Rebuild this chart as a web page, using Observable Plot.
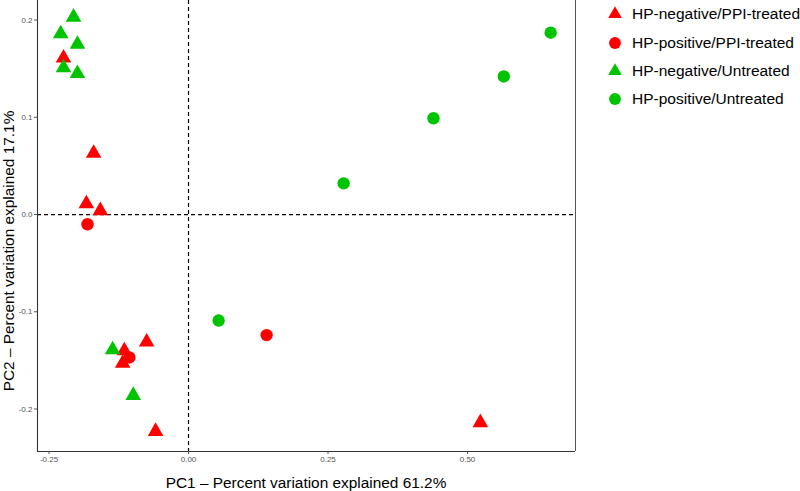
<!DOCTYPE html>
<html>
<head>
<meta charset="utf-8">
<script src="https://cdn.jsdelivr.net/npm/d3@7"></script>
<script src="https://cdn.jsdelivr.net/npm/@observablehq/plot@0.6"></script>
<style>
  html, body { margin: 0; padding: 0; background: #fff; }
  #chart { position: relative; width: 800px; height: 491px; }
</style>
</head>
<body>
<div id="chart"></div>
<script>
// ---- data ----
const groups = ["HP-negative/PPI-treated", "HP-positive/PPI-treated", "HP-negative/Untreated", "HP-positive/Untreated"];
const groupColors = ["#ff0000", "#ff0000", "#00c400", "#00c400"];
const groupSymbols = ["triangle", "circle", "triangle", "circle"];

const negPPI_x = [-0.224, -0.170, -0.183, -0.158, -0.075, -0.115, -0.118, -0.059, 0.523];
const negPPI_y = [0.161, 0.063, 0.011, 0.004, -0.131, -0.140, -0.153, -0.223, -0.214];
const posPPI_x = [-0.181, -0.106, 0.140];
const posPPI_y = [-0.010, -0.147, -0.124];
const negUnt_x = [-0.206, -0.229, -0.199, -0.224, -0.199, -0.136, -0.099];
const negUnt_y = [0.203, 0.186, 0.175, 0.151, 0.145, -0.139, -0.186];
const posUnt_x = [0.054, 0.278, 0.439, 0.565, 0.649];
const posUnt_y = [-0.109, 0.032, 0.099, 0.142, 0.187];

const xTicks = [-0.25, 0, 0.25, 0.5];
const yTicks = [-0.2, -0.1, 0, 0.1, 0.2];
const xDomain = [-0.2706, 0.6935];
const yDomain = [-0.2437, 0.2201];
const xTitle = "PC1 \u2013 Percent variation explained 61.2%";
const yTitle = "PC2 \u2013 Percent variation explained 17.1%";

// ---- build ----
const seriesX = [negPPI_x, posPPI_x, negUnt_x, posUnt_x];
const seriesY = [negPPI_y, posPPI_y, negUnt_y, posUnt_y];
const points = [];
groups.forEach((g, gi) => {
  seriesX[gi].forEach((x, i) => points.push({group: g, gi, x, y: seriesY[gi][i]}));
});

const fmt2 = d => d3.format(".2f")(d).replace("\u2212", "-");
const fmt1 = d => d3.format(".1f")(d).replace("\u2212", "-");
const font = "'Liberation Sans', Arial, sans-serif";

const dotMarks = groups.map((g, gi) =>
  Plot.dot(points.filter(p => p.gi === gi), {
    x: "x", y: "y",
    symbol: () => groupSymbols[gi],
    fill: groupColors[gi],
    r: groupSymbols[gi] === "triangle" ? 5.8 : 6.2,
    stroke: "none"
  })
);

const chart = Plot.plot({
  width: 800,
  height: 491,
  marginLeft: 37,
  marginRight: 225,
  marginTop: 0,
  marginBottom: 40,
  style: {fontFamily: font, background: "#fff"},
  x: {domain: xDomain, axis: null},
  y: {domain: yDomain, axis: null},
  symbol: {type: "identity"},
  marks: [
    Plot.ruleX([0], {stroke: "#000", strokeWidth: 1.2, strokeDasharray: "4,3"}),
    Plot.ruleY([0], {stroke: "#000", strokeWidth: 1.2, strokeDasharray: "4,3"}),
    ...dotMarks,
    Plot.ruleX([xDomain[0]], {stroke: "#333", strokeWidth: 1.1}),
    Plot.ruleX([xDomain[1]], {stroke: "#555", strokeWidth: 1}),
    Plot.ruleY([yDomain[0]], {stroke: "#333", strokeWidth: 1.1}),
    Plot.axisX({ticks: xTicks, tickFormat: fmt2, tickSize: 3, tickPadding: 2, fontSize: 8, color: "#555", label: null}),
    Plot.axisY({ticks: yTicks, tickFormat: fmt1, tickSize: 3, tickPadding: 2, fontSize: 8, color: "#555", label: null})
  ]
});
document.getElementById("chart").appendChild(chart);

const svg = d3.select(chart);

// ---- axis titles ----
svg.append("text")
  .attr("x", 306).attr("y", 483).attr("dy", "0.35em")
  .attr("text-anchor", "middle").attr("font-family", font).attr("font-size", 15.4).attr("fill", "#000")
  .text(xTitle);
svg.append("text")
  .attr("transform", "translate(8.5,251) rotate(-90)").attr("dy", "0.35em")
  .attr("text-anchor", "middle").attr("font-family", font).attr("font-size", 15.4).attr("fill", "#000")
  .text(yTitle);

// ---- legend (right side) ----
const lg = svg.append("g").attr("font-family", font).attr("font-size", 15.5).attr("text-anchor", "start");
const legendY = [14, 43, 71, 99];
groups.forEach((g, gi) => {
  const row = lg.append("g").attr("transform", `translate(615,${legendY[gi]})`);
  const sym = groupSymbols[gi] === "triangle" ? d3.symbolTriangle : d3.symbolCircle;
  const size = groupSymbols[gi] === "triangle" ? 80 : 110;
  row.append("path").attr("d", d3.symbol(sym, size)()).attr("fill", groupColors[gi]);
  row.append("text").attr("x", 17).attr("dy", "0.35em").attr("fill", "#000").text(g);
});
</script>
</body>
</html>
